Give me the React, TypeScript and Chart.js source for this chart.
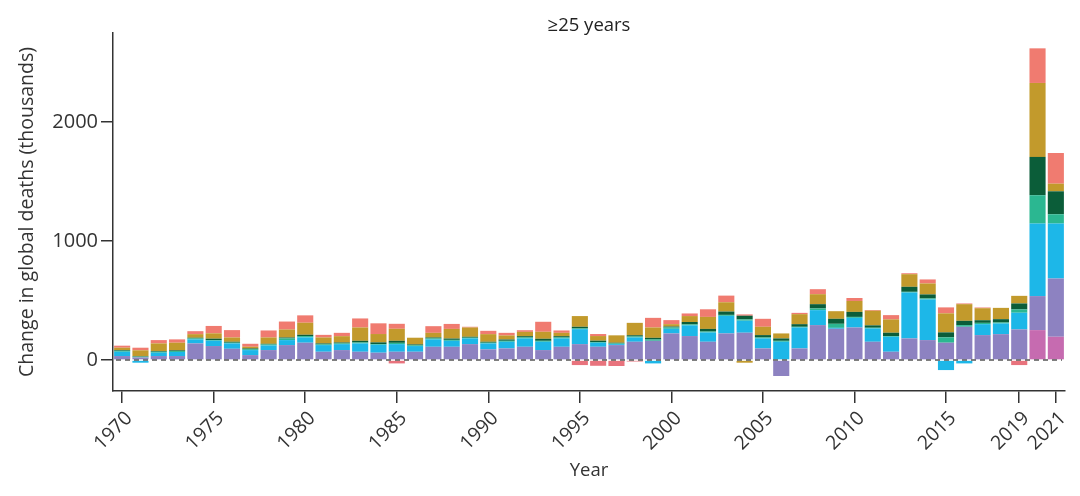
import React, { useEffect, useRef } from 'react';
import { Chart, registerables } from 'chart.js';
Chart.register(...registerables);

const years = [
  '1970','1971','1972','1973','1974','1975','1976','1977','1978','1979',
  '1980','1981','1982','1983','1984','1985','1986','1987','1988','1989',
  '1990','1991','1992','1993','1994','1995','1996','1997','1998','1999',
  '2000','2001','2002','2003','2004','2005','2006','2007','2008','2009',
  '2010','2011','2012','2013','2014','2015','2016','2017','2018','2019',
  '2020','2021'
];
const tickYears = ['1970','1975','1980','1985','1990','1995','2000','2005','2010','2015','2019','2021'];
const yTicks = [0, 1000, 2000];

// values in thousands, bottom to top of the stack
const pinkVals = [
  0,0,0,0,0,0,0,0,0,0,
  0,0,0,0,0,-28,0,0,0,0,
  0,0,0,0,0,-42,-48,-50,-12,0,
  0,0,0,0,0,0,0,0,0,0,
  0,0,0,0,0,0,0,0,0,-42,
  252,196
];
const purpleVals = [
  34,22,34,34,140,118,95,42,84,126,
  146,70,84,70,62,70,70,112,112,134,
  90,98,112,84,112,134,112,126,154,162,
  224,202,154,224,230,98,-134,98,294,263,
  274,154,70,182,168,146,280,210,218,258,
  286,490
];
const cyanVals = [
  36,-22,28,34,34,45,45,42,39,42,
  45,56,50,70,67,64,48,62,50,48,
  50,56,70,70,70,126,34,8,36,-28,
  39,90,78,148,101,84,154,176,126,8,
  81,112,126,386,342,-84,-28,92,90,140,
  610,462
];
const tealVals = [
  8,6,8,8,8,6,6,8,8,14,
  11,6,6,8,6,11,6,8,8,6,
  6,8,8,8,8,6,6,6,8,11,
  11,8,8,8,11,8,8,6,14,34,
  8,6,6,6,8,45,14,11,8,28,
  238,78
];
const darkGreenVals = [
  6,4,6,6,6,11,8,6,6,8,
  11,8,8,14,14,17,8,8,11,8,
  8,11,11,17,11,14,11,6,11,14,
  8,20,22,28,31,20,20,22,36,42,
  42,20,28,42,34,42,36,22,28,50,
  322,193
];
const goldVals = [
  20,50,64,64,30,45,36,14,53,67,
  101,50,53,112,70,101,56,39,81,78,
  64,34,36,59,28,90,39,62,104,87,
  20,50,101,78,-22,70,42,84,84,64,
  92,123,112,106,92,160,140,101,95,64,
  622,64
];
const salmonVals = [
  17,22,28,28,25,62,62,25,59,67,
  62,22,28,76,90,42,0,56,42,6,
  28,22,14,84,20,0,17,0,0,81,
  34,22,64,56,11,67,0,11,42,0,
  25,6,36,8,34,50,6,6,0,0,
  291,258
];

const FONT = "'Open Sans', 'Noto Sans', sans-serif";

export default function App() {
  const ref = useRef<HTMLCanvasElement | null>(null);

  useEffect(() => {
    document.body.style.margin = '0';
    if (!ref.current) return;

    const zeroLine = {
      id: 'zeroLine',
      afterDatasetsDraw(chart: any) {
        const { ctx, chartArea, scales } = chart;
        const y = scales.y.getPixelForValue(0);
        ctx.save();
        ctx.strokeStyle = '#555';
        ctx.lineWidth = 1.5;
        ctx.setLineDash([5, 4]);
        ctx.beginPath();
        ctx.moveTo(chartArea.left + 3, y);
        ctx.lineTo(chartArea.right - 3, y);
        ctx.stroke();
        ctx.restore();
      },
    };
    const topTitle = {
      id: 'topTitle',
      afterDraw(chart: any) {
        const { ctx, chartArea } = chart;
        ctx.save();
        ctx.font = `18.5px ${FONT}`;
        ctx.fillStyle = '#222';
        ctx.textAlign = 'center';
        ctx.textBaseline = 'middle';
        ctx.fillText('≥25 years', (chartArea.left + chartArea.right) / 2, 26);
        ctx.restore();
      },
    };

    const mk = (label: string, data: number[], color: any) => ({
      label,
      data,
      backgroundColor: color,
      borderWidth: 0,
      barPercentage: 0.88,
      categoryPercentage: 1,
      stack: 's',
    });

    const chart = new Chart(ref.current, {
      type: 'bar',
      data: {
        labels: years,
        datasets: [
          mk('Group 1', pinkVals, (c: any) => (c.raw < 0 ? '#e8737d' : '#c66bb0')),
          mk('Group 2', purpleVals, '#8d82c1'),
          mk('Group 3', cyanVals, '#1db7e8'),
          mk('Group 4', tealVals, '#2bb791'),
          mk('Group 5', darkGreenVals, '#0b5d39'),
          mk('Group 6', goldVals, '#c29a2c'),
          mk('Group 7', salmonVals, '#f07b70'),
        ],
      },
      options: {
        animation: false,
        responsive: true,
        maintainAspectRatio: false,
        layout: { padding: { left: 0, right: 15, top: 33, bottom: 0 } },
        plugins: {
          legend: { display: false },
          tooltip: { enabled: false },
          title: { display: false },
        },
        scales: {
          x: {
            stacked: true,
            afterBuildTicks: (s: any) => {
              s.ticks = s.ticks.filter((t: any) => tickYears.includes(years[t.value]));
            },
            afterFit: (s: any) => { s.height = 105; },
            ticks: {
              autoSkip: false,
              maxRotation: 45,
              minRotation: 45,
              color: '#333',
              padding: 4,
              labelOffset: 7,
              font: { family: FONT, size: 19.5 },
            },
            grid: {
              display: true,
              offset: false,
              drawOnChartArea: false,
              drawTicks: true,
              tickLength: 12,
              color: '#333',
              lineWidth: 1.5,
            },
            border: { display: true, color: '#333', width: 1.5 },
            title: {
              display: true,
              text: 'Year',
              color: '#333',
              font: { family: FONT, size: 18.5 },
              padding: { top: 0, bottom: 14 },
            },
          },
          y: {
            stacked: true,
            min: -260,
            max: 2750,
            afterBuildTicks: (s: any) => {
              s.ticks = yTicks.map((v) => ({ value: v }));
            },
            afterFit: (s: any) => { s.width = 113; },
            ticks: {
              color: '#333',
              padding: 3,
              font: { family: FONT, size: 20 },
              callback: (v: any) => String(v),
            },
            grid: {
              display: true,
              drawOnChartArea: false,
              drawTicks: true,
              tickLength: 12,
              color: '#333',
              lineWidth: 1.5,
            },
            border: { display: true, color: '#333', width: 1.5 },
            title: {
              display: true,
              text: 'Change in global deaths (thousands)',
              color: '#333',
              font: { family: FONT, size: 19.5 },
              padding: { top: 16, bottom: 0 },
            },
          },
        },
      },
      plugins: [zeroLine, topTitle],
    });
    return () => chart.destroy();
  }, []);

  return (
    <div style={{ width: 1080, height: 496, position: 'relative', background: '#fff' }}>
      <canvas ref={ref} />
    </div>
  );
}
